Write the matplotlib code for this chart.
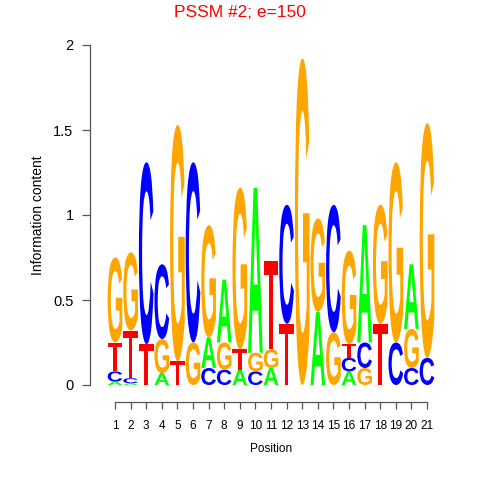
import numpy as np
import matplotlib
matplotlib.use("Agg")
import matplotlib.pyplot as plt
from matplotlib.textpath import TextPath
from matplotlib.patches import PathPatch
from matplotlib.font_manager import FontProperties
from matplotlib.transforms import Affine2D

# information content of each letter at each position (bits)
positions = list(range(1, 22))
A = [0.02, 0.01, 0.00, 0.07, 0.00, 0.00, 0.18, 0.37, 0.09, 0.97, 0.10,
     0.00, 0.00, 0.43, 0.00, 0.08, 0.69, 0.00, 0.00, 0.38, 0.00]
C = [0.06, 0.03, 1.07, 0.44, 0.00, 1.06, 0.10, 0.09, 0.00, 0.08, 0.00,
     0.70, 0.00, 0.00, 0.75, 0.08, 0.15, 0.00, 0.25, 0.10, 0.16]
G = [0.50, 0.46, 0.00, 0.20, 1.39, 0.25, 0.66, 0.16, 0.95, 0.11, 0.11,
     0.00, 1.92, 0.55, 0.31, 0.55, 0.10, 0.70, 1.06, 0.23, 1.38]
T = [0.17, 0.28, 0.24, 0.00, 0.14, 0.00, 0.00, 0.00, 0.12, 0.00, 0.52,
     0.36, 0.00, 0.00, 0.00, 0.08, 0.00, 0.36, 0.00, 0.00, 0.00]

letters = ["A", "C", "G", "T"]
colors = {"A": "#00FF00", "C": "#0000FF", "G": "#FFA500", "T": "#FF0000"}
heights = np.array([A, C, G, T])

plt.rcParams["font.family"] = ["Liberation Sans", "DejaVu Sans"]
fp = FontProperties(family="Liberation Sans", weight="bold")

fig = plt.figure(figsize=(4.8, 4.8), dpi=100)
ax = fig.add_axes([107.2 / 480, 95 / 480, 327.6 / 480, 340 / 480])


def draw_letter(ax, ch, x0, y0, w, h):
    # glyph stretched to fill the box [x0, x0+w] x [y0, y0+h]
    tp = TextPath((0, 0), ch, size=1, prop=fp)
    ext = tp.get_extents()
    tr = (Affine2D().translate(-ext.x0, -ext.y0)
          .scale(w / ext.width, h / ext.height)
          .translate(x0, y0))
    patch = PathPatch(tr.transform_path(tp), facecolor=colors[ch],
                      edgecolor="none", clip_on=False)
    ax.add_patch(patch)


width = 0.94
for j, p in enumerate(positions):
    col = heights[:, j]
    order = np.argsort(col, kind="stable")
    y = 0.0
    for k in order:
        if col[k] <= 0.003:
            continue
        draw_letter(ax, letters[k], p - width / 2, y, width, col[k])
        y += col[k]

ax.set_xlim(0.5, 21.5)
ax.set_ylim(0, 2)

# R-style detached axes
ax.spines["top"].set_visible(False)
ax.spines["right"].set_visible(False)
ax.spines["left"].set_position(("outward", 12.4))
ax.spines["bottom"].set_position(("outward", 12.2))
ax.spines["bottom"].set_bounds(1, 21)
for s in ["left", "bottom"]:
    ax.spines[s].set_color("#555555")
    ax.spines[s].set_linewidth(0.9)

ax.set_xticks(positions)
ax.set_xticklabels([str(p) for p in positions], fontsize=8.5)
ax.set_yticks([0, 0.5, 1, 1.5, 2])
ax.set_yticklabels(["0", "0.5", "1", "1.5", "2"], fontsize=10.5)
ax.tick_params(axis="y", length=5.8, width=0.9, color="#555555", pad=6)
ax.tick_params(axis="x", length=5, width=0.9, color="#555555", pad=8)

ax.set_xlabel("Position", fontsize=8.5, labelpad=8)
ax.set_ylabel("Information content", fontsize=10, labelpad=6)
fig.suptitle("PSSM #2; e=150", color="red", fontsize=12.5, x=0.5, y=0.99)

fig.savefig("out.png", dpi=100)
